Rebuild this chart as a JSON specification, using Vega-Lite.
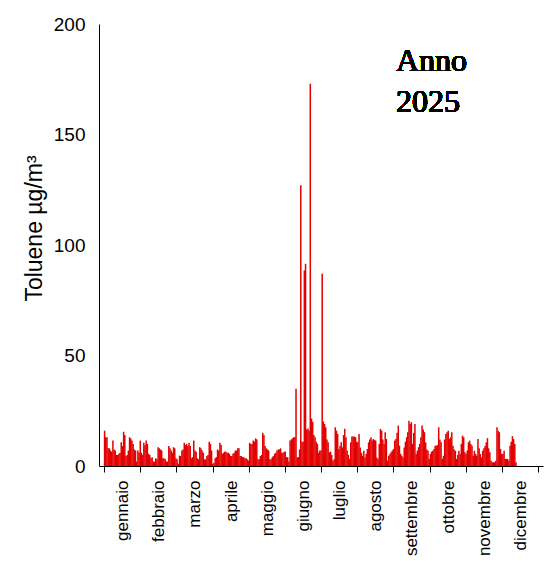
{
  "$schema": "https://vega.github.io/schema/vega-lite/v6.json",
  "width": 444,
  "height": 442,
  "autosize": "none",
  "padding": {"left": 99, "top": 24, "right": 7, "bottom": 95},
  "background": "white",
  "config": {"view": {"stroke": null}, "font": "Liberation Sans"},
  "data": {"values": [
    {"giorno":1,"toluene":16},{"giorno":2,"toluene":13},{"giorno":3,"toluene":13},{"giorno":4,"toluene":8},{"giorno":5,"toluene":8},
    {"giorno":6,"toluene":7},{"giorno":7,"toluene":6.5},{"giorno":8,"toluene":11.5},{"giorno":9,"toluene":7.5},{"giorno":10,"toluene":7},
    {"giorno":11,"toluene":5},{"giorno":12,"toluene":5},{"giorno":13,"toluene":5.5},{"giorno":14,"toluene":6},{"giorno":15,"toluene":10.7},
    {"giorno":16,"toluene":9},{"giorno":17,"toluene":15.5},{"giorno":18,"toluene":14},{"giorno":19,"toluene":4.5},{"giorno":20,"toluene":5},
    {"giorno":21,"toluene":7},{"giorno":22,"toluene":13},{"giorno":23,"toluene":12.5},{"giorno":24,"toluene":11.5},{"giorno":25,"toluene":10},
    {"giorno":26,"toluene":7.5},{"giorno":27,"toluene":7},{"giorno":28,"toluene":2},{"giorno":29,"toluene":7},{"giorno":30,"toluene":6},
    {"giorno":31,"toluene":11.5},{"giorno":32,"toluene":6},{"giorno":33,"toluene":5},{"giorno":34,"toluene":10.5},{"giorno":35,"toluene":9.5},
    {"giorno":36,"toluene":11.5},{"giorno":37,"toluene":10},{"giorno":38,"toluene":5.5},{"giorno":39,"toluene":5},{"giorno":40,"toluene":3.5},
    {"giorno":41,"toluene":4},{"giorno":42,"toluene":2},{"giorno":43,"toluene":2},{"giorno":44,"toluene":3.5},{"giorno":45,"toluene":3},
    {"giorno":46,"toluene":8.5},{"giorno":47,"toluene":8},{"giorno":48,"toluene":7.5},{"giorno":49,"toluene":7},{"giorno":50,"toluene":3.5},
    {"giorno":51,"toluene":3.5},{"giorno":52,"toluene":3},{"giorno":53,"toluene":2},{"giorno":54,"toluene":2},{"giorno":55,"toluene":9},
    {"giorno":56,"toluene":8},{"giorno":57,"toluene":7},{"giorno":58,"toluene":6},{"giorno":59,"toluene":8.5},{"giorno":60,"toluene":8},
    {"giorno":61,"toluene":3.5},{"giorno":62,"toluene":3},{"giorno":63,"toluene":1},{"giorno":64,"toluene":4.7},{"giorno":65,"toluene":4.5},
    {"giorno":66,"toluene":7},{"giorno":67,"toluene":7.5},{"giorno":68,"toluene":10.5},{"giorno":69,"toluene":9.5},{"giorno":70,"toluene":10},
    {"giorno":71,"toluene":9},{"giorno":72,"toluene":10.5},{"giorno":73,"toluene":9},{"giorno":74,"toluene":3.5},{"giorno":75,"toluene":4},
    {"giorno":76,"toluene":11.5},{"giorno":77,"toluene":7},{"giorno":78,"toluene":6.5},{"giorno":79,"toluene":3.5},{"giorno":80,"toluene":3},
    {"giorno":81,"toluene":8.5},{"giorno":82,"toluene":8},{"giorno":83,"toluene":7},{"giorno":84,"toluene":6},{"giorno":85,"toluene":3},
    {"giorno":86,"toluene":3},{"giorno":87,"toluene":4.5},{"giorno":88,"toluene":5},{"giorno":89,"toluene":11},{"giorno":90,"toluene":10},
    {"giorno":91,"toluene":7},{"giorno":92,"toluene":1},{"giorno":93,"toluene":1.5},{"giorno":94,"toluene":3.5},{"giorno":95,"toluene":4},
    {"giorno":96,"toluene":7.5},{"giorno":97,"toluene":7},{"giorno":98,"toluene":10.5},{"giorno":99,"toluene":9.5},{"giorno":100,"toluene":5.5},
    {"giorno":101,"toluene":6},{"giorno":102,"toluene":6.5},{"giorno":103,"toluene":6.5},{"giorno":104,"toluene":6},{"giorno":105,"toluene":6},
    {"giorno":106,"toluene":5.5},{"giorno":107,"toluene":4.5},{"giorno":108,"toluene":4.5},{"giorno":109,"toluene":5.5},{"giorno":110,"toluene":6},
    {"giorno":111,"toluene":7},{"giorno":112,"toluene":7},{"giorno":113,"toluene":8},{"giorno":114,"toluene":8},{"giorno":115,"toluene":4.5},
    {"giorno":116,"toluene":4.5},{"giorno":117,"toluene":4},{"giorno":118,"toluene":4},{"giorno":119,"toluene":3.5},{"giorno":120,"toluene":3.5},
    {"giorno":121,"toluene":3},{"giorno":122,"toluene":2.5},{"giorno":123,"toluene":10.5},{"giorno":124,"toluene":10},{"giorno":125,"toluene":10},
    {"giorno":126,"toluene":11.5},{"giorno":127,"toluene":11},{"giorno":128,"toluene":12.5},{"giorno":129,"toluene":12},{"giorno":130,"toluene":3},
    {"giorno":131,"toluene":3},{"giorno":132,"toluene":4.5},{"giorno":133,"toluene":5},{"giorno":134,"toluene":15},{"giorno":135,"toluene":14},
    {"giorno":136,"toluene":9},{"giorno":137,"toluene":8},{"giorno":138,"toluene":7.5},{"giorno":139,"toluene":7},{"giorno":140,"toluene":3},
    {"giorno":141,"toluene":3},{"giorno":142,"toluene":4},{"giorno":143,"toluene":4.5},{"giorno":144,"toluene":5.5},{"giorno":145,"toluene":6},
    {"giorno":146,"toluene":7},{"giorno":147,"toluene":7.5},{"giorno":148,"toluene":7.5},{"giorno":149,"toluene":8},{"giorno":150,"toluene":6},
    {"giorno":151,"toluene":6},{"giorno":152,"toluene":6.5},{"giorno":153,"toluene":6.5},{"giorno":154,"toluene":4},{"giorno":155,"toluene":4},
    {"giorno":156,"toluene":2},{"giorno":157,"toluene":11.5},{"giorno":158,"toluene":12},{"giorno":159,"toluene":12.5},{"giorno":160,"toluene":13},
    {"giorno":161,"toluene":13},{"giorno":162,"toluene":35},{"giorno":163,"toluene":4},{"giorno":164,"toluene":4},{"giorno":165,"toluene":7.5},
    {"giorno":166,"toluene":127},{"giorno":167,"toluene":11},{"giorno":168,"toluene":11},{"giorno":169,"toluene":88.5},{"giorno":170,"toluene":91.5},
    {"giorno":171,"toluene":16.5},{"giorno":172,"toluene":17},{"giorno":173,"toluene":16},{"giorno":174,"toluene":173},{"giorno":175,"toluene":21.5},
    {"giorno":176,"toluene":20},{"giorno":177,"toluene":14},{"giorno":178,"toluene":13},{"giorno":179,"toluene":11},{"giorno":180,"toluene":10},
    {"giorno":181,"toluene":6},{"giorno":182,"toluene":7},{"giorno":183,"toluene":7},{"giorno":184,"toluene":87},{"giorno":185,"toluene":20.1},
    {"giorno":186,"toluene":19},{"giorno":187,"toluene":17.5},{"giorno":188,"toluene":12},{"giorno":189,"toluene":10.7},{"giorno":190,"toluene":6.2},
    {"giorno":191,"toluene":6.5},{"giorno":192,"toluene":5},{"giorno":193,"toluene":2.4},{"giorno":194,"toluene":3},{"giorno":195,"toluene":17.5},
    {"giorno":196,"toluene":16},{"giorno":197,"toluene":14.5},{"giorno":198,"toluene":7.7},{"giorno":199,"toluene":9},{"giorno":200,"toluene":10.7},
    {"giorno":201,"toluene":8.4},{"giorno":202,"toluene":14},{"giorno":203,"toluene":16.8},{"giorno":204,"toluene":13},{"giorno":205,"toluene":7},
    {"giorno":206,"toluene":5},{"giorno":207,"toluene":3.2},{"giorno":208,"toluene":10.7},{"giorno":209,"toluene":13.3},{"giorno":210,"toluene":13.3},
    {"giorno":211,"toluene":13.3},{"giorno":212,"toluene":13},{"giorno":213,"toluene":11},{"giorno":214,"toluene":10.7},{"giorno":215,"toluene":14.5},
    {"giorno":216,"toluene":8.4},{"giorno":217,"toluene":6},{"giorno":218,"toluene":4.6},{"giorno":219,"toluene":6.9},{"giorno":220,"toluene":3.9},
    {"giorno":221,"toluene":5.5},{"giorno":222,"toluene":7.7},{"giorno":223,"toluene":10.7},{"giorno":224,"toluene":12},{"giorno":225,"toluene":13},
    {"giorno":226,"toluene":11.5},{"giorno":227,"toluene":12.2},{"giorno":228,"toluene":11.8},{"giorno":229,"toluene":11.5},{"giorno":230,"toluene":3.9},
    {"giorno":231,"toluene":3.2},{"giorno":232,"toluene":10},{"giorno":233,"toluene":16.8},{"giorno":234,"toluene":16},{"giorno":235,"toluene":12},
    {"giorno":236,"toluene":10},{"giorno":237,"toluene":15.3},{"giorno":238,"toluene":12.2},{"giorno":239,"toluene":2.4},{"giorno":240,"toluene":4.6},
    {"giorno":241,"toluene":5.4},{"giorno":242,"toluene":6.2},{"giorno":243,"toluene":7},{"giorno":244,"toluene":7.7},{"giorno":245,"toluene":11.5},
    {"giorno":246,"toluene":12.2},{"giorno":247,"toluene":15},{"giorno":248,"toluene":18.3},{"giorno":249,"toluene":9.2},{"giorno":250,"toluene":5.5},
    {"giorno":251,"toluene":4.6},{"giorno":252,"toluene":3.9},{"giorno":253,"toluene":8.4},{"giorno":254,"toluene":11},{"giorno":255,"toluene":13},
    {"giorno":256,"toluene":15.3},{"giorno":257,"toluene":20.5},{"giorno":258,"toluene":19},{"giorno":259,"toluene":19.8},{"giorno":260,"toluene":10},
    {"giorno":261,"toluene":15},{"giorno":262,"toluene":19},{"giorno":263,"toluene":5.4},{"giorno":264,"toluene":6.9},{"giorno":265,"toluene":8.5},
    {"giorno":266,"toluene":10},{"giorno":267,"toluene":13},{"giorno":268,"toluene":18.3},{"giorno":269,"toluene":16.5},{"giorno":270,"toluene":15.3},
    {"giorno":271,"toluene":10.7},{"giorno":272,"toluene":7.5},{"giorno":273,"toluene":6.9},{"giorno":274,"toluene":3.2},{"giorno":275,"toluene":5.4},
    {"giorno":276,"toluene":6.5},{"giorno":277,"toluene":6.9},{"giorno":278,"toluene":7.7},{"giorno":279,"toluene":9.2},{"giorno":280,"toluene":9.2},
    {"giorno":281,"toluene":9.5},{"giorno":282,"toluene":17.5},{"giorno":283,"toluene":12},{"giorno":284,"toluene":10.7},{"giorno":285,"toluene":3.2},
    {"giorno":286,"toluene":4.6},{"giorno":287,"toluene":12},{"giorno":288,"toluene":14.5},{"giorno":289,"toluene":15.3},{"giorno":290,"toluene":16},
    {"giorno":291,"toluene":12.2},{"giorno":292,"toluene":13},{"giorno":293,"toluene":15.3},{"giorno":294,"toluene":9.2},{"giorno":295,"toluene":7.5},
    {"giorno":296,"toluene":6.9},{"giorno":297,"toluene":3.2},{"giorno":298,"toluene":5},{"giorno":299,"toluene":6.9},{"giorno":300,"toluene":5.4},
    {"giorno":301,"toluene":10},{"giorno":302,"toluene":13.7},{"giorno":303,"toluene":13},{"giorno":304,"toluene":6.2},{"giorno":305,"toluene":5.4},
    {"giorno":306,"toluene":7},{"giorno":307,"toluene":10.7},{"giorno":308,"toluene":11.5},{"giorno":309,"toluene":10},{"giorno":310,"toluene":9.2},
    {"giorno":311,"toluene":4.6},{"giorno":312,"toluene":6.9},{"giorno":313,"toluene":5.5},{"giorno":314,"toluene":4.6},{"giorno":315,"toluene":12.2},
    {"giorno":316,"toluene":8},{"giorno":317,"toluene":5.4},{"giorno":318,"toluene":3.9},{"giorno":319,"toluene":6.9},{"giorno":320,"toluene":8},
    {"giorno":321,"toluene":9},{"giorno":322,"toluene":10.7},{"giorno":323,"toluene":12.6},{"giorno":324,"toluene":8},{"giorno":325,"toluene":6.2},
    {"giorno":326,"toluene":2.4},{"giorno":327,"toluene":1.7},{"giorno":328,"toluene":1.7},{"giorno":329,"toluene":1.7},{"giorno":330,"toluene":2.4},
    {"giorno":331,"toluene":17.5},{"giorno":332,"toluene":16},{"giorno":333,"toluene":15.3},{"giorno":334,"toluene":7.7},{"giorno":335,"toluene":5.4},
    {"giorno":336,"toluene":5.5},{"giorno":337,"toluene":6.9},{"giorno":338,"toluene":3.2},{"giorno":339,"toluene":3.2},{"giorno":340,"toluene":3.2},
    {"giorno":341,"toluene":2.4},{"giorno":342,"toluene":9.2},{"giorno":343,"toluene":11},{"giorno":344,"toluene":13.5},{"giorno":345,"toluene":12.2},
    {"giorno":346,"toluene":10},{"giorno":347,"toluene":1.7}
  ]},
  "layer": [
    {
      "mark": {"type": "bar", "width": 1.5, "fill": "#e20000", "stroke": null},
      "encoding": {
        "x": {
          "field": "giorno",
          "type": "quantitative",
          "scale": {"domain": [0.5, 365.5], "nice": false, "zero": false},
          "axis": {
            "title": null,
            "grid": false,
            "values": [0.5, 30.9167, 61.3333, 91.75, 122.1667, 152.5833, 183, 213.4167, 243.8333, 274.25, 304.6667, 335.0833, 365.5],
            "tickCount": 40,
            "labelExpr": "['gennaio','febbraio','marzo','aprile','maggio','giugno','luglio','agosto','settembre','ottobre','novembre','dicembre',''][round((datum.value - 0.5) / 30.4167)]",
            "labelAngle": -90,
            "labelOffset": 18.5,
            "labelFlush": false,
            "labelOverlap": false,
            "labelFontSize": 17,
            "labelColor": "#000000",
            "labelPadding": 8,
            "tickSize": 6,
            "tickColor": "#000000",
            "domainColor": "#000000"
          }
        },
        "y": {
          "field": "toluene",
          "type": "quantitative",
          "scale": {"domain": [0, 200], "nice": false},
          "axis": {
            "title": "Toluene µg/m³",
            "titleFontSize": 23,
            "titleFontWeight": "normal",
            "titleColor": "#000000",
            "titlePadding": 7,
            "titleY": 204,
            "grid": false,
            "ticks": false,
            "values": [0, 50, 100, 150, 200],
            "tickCount": 10,
            "labelFontSize": 19,
            "labelColor": "#000000",
            "labelPadding": 14,
            "domainColor": "#000000"
          }
        }
      }
    },
    {
      "mark": {
        "type": "text",
        "text": ["Anno", "2025"],
        "font": "Times New Roman, Liberation Serif, serif",
        "fontSize": 32,
        "fontWeight": 400,
        "align": "left",
        "baseline": "alphabetic",
        "lineHeight": 41,
        "fill": "#000000"
      },
      "encoding": {
        "x": {"datum": 246},
        "y": {"datum": 178.7}
      }
    }
  ]
}
